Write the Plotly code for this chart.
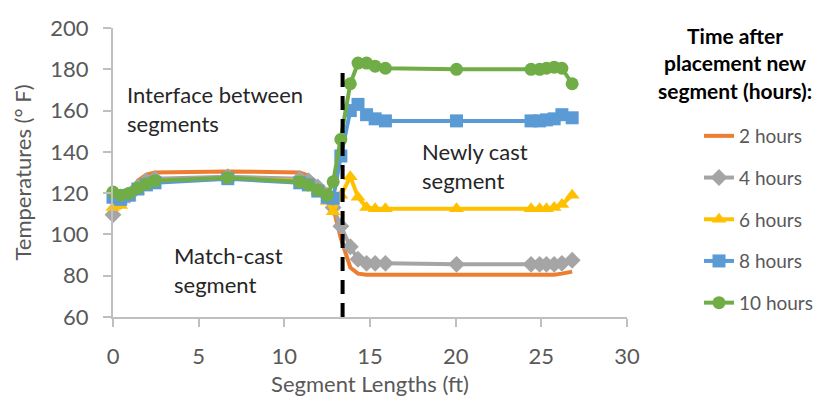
import plotly.graph_objects as go

# Sensor positions along the two segments (ft)
positions_ft = [
    0, 0.45, 0.95, 1.45, 1.95, 2.45, 6.7, 10.9, 11.4, 11.95, 12.5, 12.85,
    13.3, 13.85, 14.3, 14.8, 15.3, 15.9, 20.05, 24.4, 24.9, 25.3, 25.75, 26.2, 26.8,
]

# Temperatures (deg F) at each position, per time after placement
temps_2h = [
    112, 114, 120, 126, 129, 130, 130.5, 130, 128.5, 125, 121, 113,
    98, 84, 81, 80.5, 80.5, 80.5, 80.5, 80.5, 80.5, 80.5, 80.5, 81, 82,
]
temps_4h = [
    109.5, 116, 119, 123, 126, 127, 128, 127, 126, 123, 119, 113,
    104, 94, 88, 86, 86, 86, 85.5, 85.5, 85.5, 85.5, 85.5, 86, 87.5,
]
temps_6h = [
    113, 114, 118, 121, 124, 126, 127, 126, 124, 121, 116, 111,
    119, 128, 118, 113, 112.5, 112.5, 112.5, 112.5, 112.5, 112.5, 113, 114.5, 119,
]
temps_8h = [
    118, 117, 119, 122, 124, 125, 127, 125, 124, 121, 118, 117.5,
    138, 160, 163, 158, 156, 155, 155, 155, 155, 155.5, 156, 158, 156.5,
]
temps_10h = [
    120.5, 119, 120, 122.5, 124.5, 126, 127.5, 125.5, 124, 121.5, 119, 125.5,
    146, 173, 183, 183, 181.5, 180.5, 180, 180, 180, 180.5, 181, 180.5, 173,
]

series_names = ["2 hours", "4 hours", "6 hours", "8 hours", "10 hours"]
series_values = [temps_2h, temps_4h, temps_6h, temps_8h, temps_10h]
series_colors = ["#ED7D31", "#A5A5A5", "#FFC000", "#5B9BD5", "#70AD47"]
series_symbols = [None, "diamond", "triangle-up", "square", "circle"]

# Interface between the match-cast and the newly cast segment
interface_ft = 13.4
interface_top = 181

FONT = "Lato, 'Open Sans', sans-serif"
TEXT_GREY = "#595959"
AXIS_GREY = "#BFBFBF"

# The page body adds an 8 px offset, so the plot area is placed accordingly
PLOT_LEFT, PLOT_TOP, PLOT_W, PLOT_H = 113, 28, 514, 289

fig = go.Figure()

# Dashed vertical line at the segment interface
fig.add_shape(
    type="line",
    x0=interface_ft, x1=interface_ft, y0=60, y1=interface_top,
    xref="x", yref="y",
    line=dict(color="black", width=4, dash="14px,9px"),
    layer="above",
)

for name, values, color, symbol in zip(
    series_names, series_values, series_colors, series_symbols
):
    fig.add_trace(
        go.Scatter(
            x=positions_ft,
            y=values,
            name=name,
            legendgroup=name,
            mode="lines" if symbol is None else "lines+markers",
            line=dict(color=color, width=4),
            marker=dict(symbol=symbol or "circle", size=13, color=color),
            cliponaxis=False,
        )
    )

# Text labels inside the plot
labels = [
    ("Interface between<br>segments", 0.7, 160.8),
    ("Match-cast<br>segment", 3.45, 82.7),
    ("Newly cast<br>segment", 17.9, 133.1),
]
for text, x, y in labels:
    fig.add_annotation(
        text=text, x=x, y=y, xref="x", yref="y",
        xanchor="left", yanchor="middle", align="left",
        showarrow=False,
        font=dict(family=FONT, size=22, color="#262626"),
    )

# Legend title, drawn as an annotation so it can sit centered above the entries
fig.add_annotation(
    text="<b>Time after<br>placement new<br>segment (hours):</b>",
    x=(735 - PLOT_LEFT) / PLOT_W,
    y=1 - (63 - PLOT_TOP) / PLOT_H,
    xref="paper", yref="paper",
    xanchor="center", yanchor="middle",
    showarrow=False, align="center",
    font=dict(family=FONT, size=21, color="black"),
)

fig.update_layout(
    width=825,
    height=414,
    margin=dict(l=PLOT_LEFT - 8, r=825 - (PLOT_LEFT + PLOT_W - 8), t=PLOT_TOP - 8,
                b=414 - (PLOT_TOP + PLOT_H - 8)),
    paper_bgcolor="white",
    plot_bgcolor="white",
    font=dict(family=FONT, color=TEXT_GREY),
    legend=dict(
        x=(699 - PLOT_LEFT) / PLOT_W,
        y=1 - (117 - PLOT_TOP) / PLOT_H,
        xanchor="left",
        yanchor="top",
        font=dict(family=FONT, size=19, color=TEXT_GREY),
        tracegroupgap=14,
        bgcolor="rgba(0,0,0,0)",
    ),
    xaxis=dict(
        range=[0, 30],
        tickvals=[0, 5, 10, 15, 20, 25, 30],
        showgrid=False,
        zeroline=False,
        showline=True,
        automargin=False,
        linecolor=AXIS_GREY,
        linewidth=2,
        ticks="outside",
        ticklen=8,
        tickwidth=2,
        tickcolor=AXIS_GREY,
        ticklabelstandoff=11,
        tickfont=dict(family=FONT, size=22, color=TEXT_GREY),
        title=dict(
            text="Segment Lengths (ft)",
            font=dict(family=FONT, size=22, color=TEXT_GREY),
            standoff=8,
        ),
    ),
    yaxis=dict(
        range=[60, 200],
        tickvals=[60, 80, 100, 120, 140, 160, 180, 200],
        showgrid=False,
        zeroline=False,
        showline=True,
        automargin=False,
        linecolor=AXIS_GREY,
        linewidth=2,
        ticks="outside",
        ticklen=8,
        tickwidth=2,
        tickcolor=AXIS_GREY,
        ticklabelstandoff=10,
        tickfont=dict(family=FONT, size=22, color=TEXT_GREY),
        title=dict(
            text="Temperatures (° F)",
            font=dict(family=FONT, size=22, color=TEXT_GREY),
            standoff=13,
        ),
    ),
)

fig.write_html("out.html")
